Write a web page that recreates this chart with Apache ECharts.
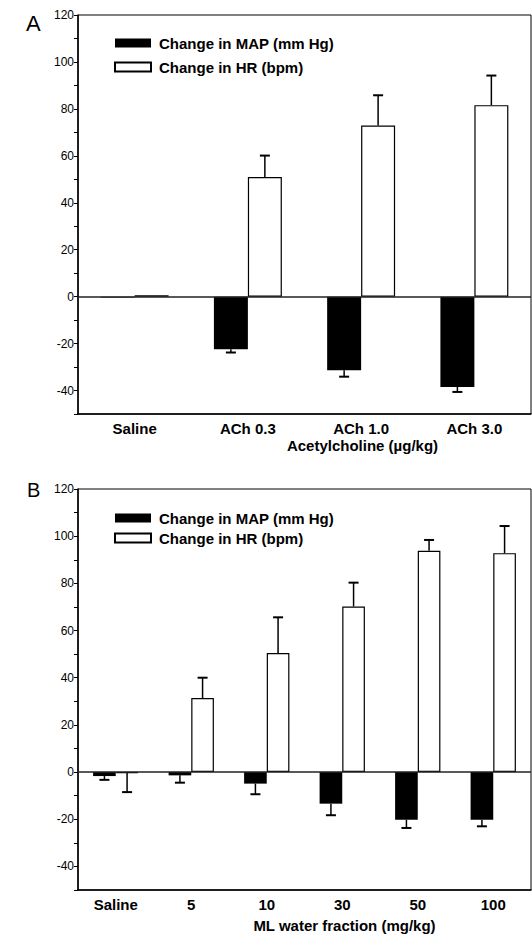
<!DOCTYPE html>
<html><head><meta charset="utf-8">
<script src="https://cdn.jsdelivr.net/npm/echarts@6/dist/echarts.min.js"></script>
<style>html,body{margin:0;padding:0;background:#fff}#c{width:532px;height:938px}</style>
</head><body><div id="c"></div>
<script>
// ---- data ----
const seriesNames = ['Change in MAP (mm Hg)', 'Change in HR (bpm)'];
const categoriesA = ['Saline', 'ACh 0.3', 'ACh 1.0', 'ACh 3.0'];
const mapA    = [-0.4, -22.4, -31.4, -38.5];
const mapSemA = [0, 1.4, 2.7, 2.1];
const hrA     = [0.6, 51.0, 72.9, 81.6];
const hrSemA  = [0, 9.1, 12.9, 12.6];
const xNameA = 'Acetylcholine (\u00b5g/kg)';

const categoriesB = ['Saline', '5', '10', '30', '50', '100'];
const mapB    = [-1.7, -1.4, -4.9, -13.4, -20.2, -20.2];
const mapSemB = [1.6, 3.1, 4.5, 4.9, 3.5, 2.8];
const hrB     = [-0.4, 31.4, 50.5, 70.2, 93.8, 92.8];
const hrSemB  = [8.1, 8.6, 15.1, 10.1, 4.6, 11.5];
const xNameB = 'ML water fraction (mg/kg)';

const yMin = -50, yMax = 120, yStep = 10, yLabelStep = 20;
const panelLabels = ['A', 'B'];

// ---- helpers ----
const FONT = 'Liberation Sans, Arial, Helvetica, sans-serif';
function errData(vals, sems, off) {
  const out = [];
  vals.forEach((v, i) => {
    if (sems[i] > 0) out.push([i, v, v + (v < 0 ? -sems[i] : sems[i]), off]);
  });
  return out;
}
function renderErr(params, api) {
  const i = api.value(0), v = api.value(1), e = api.value(2), off = api.value(3);
  const p0 = api.coord([i, v]);
  const p1 = api.coord([i, e]);
  const band = api.size([1, 0])[0];
  const cx = p0[0] + off * band;
  const cap = 5;
  return {
    type: 'group',
    children: [
      { type: 'line', shape: { x1: cx, y1: p0[1], x2: cx, y2: p1[1] }, style: { stroke: '#000', lineWidth: 1.5 } },
      { type: 'line', shape: { x1: cx - cap, y1: p1[1], x2: cx + cap, y2: p1[1] }, style: { stroke: '#000', lineWidth: 2 } }
    ]
  };
}
function xAxisCfg(idx, cats, name, shift, gap) {
  return {
    type: 'category', gridIndex: idx, data: cats, position: 'bottom',
    axisLine: { onZero: false, lineStyle: { color: '#000', width: 1.5 } },
    axisTick: { show: false },
    axisLabel: { color: '#000', fontSize: 15, fontWeight: 'bold', fontFamily: FONT, margin: 7 },
    name: name, nameLocation: 'middle', nameGap: gap,
    nameTextStyle: { color: '#000', fontSize: 15, fontWeight: 'bold', fontFamily: FONT, padding: [0, 0, 0, shift * 2] }
  };
}
function yAxisCfg(idx) {
  return {
    type: 'value', gridIndex: idx, min: yMin, max: yMax, interval: yStep,
    splitLine: { show: false },
    axisLine: { show: true, lineStyle: { color: '#000', width: 1.5 } },
    axisTick: { show: true, length: 4, lineStyle: { color: '#000' } },
    axisLabel: {
      color: '#000', fontSize: 12, fontFamily: FONT, margin: 4,
      formatter: v => (v % yLabelStep === 0 ? String(v) : '')
    }
  };
}
function barSeries(idx, name, data, isMap, withZero) {
  const s = {
    type: 'bar', name: name, xAxisIndex: idx, yAxisIndex: idx, data: data,
    barWidth: '30%', barGap: '0%',
    itemStyle: isMap ? { color: '#000' } : { color: '#fff', borderColor: '#000', borderWidth: 1.2 },
    emphasis: { disabled: true }, animation: false
  };
  if (withZero) {
    s.markLine = {
      silent: true, symbol: 'none', label: { show: false },
      lineStyle: { color: '#222', width: 1.5, type: 'solid' },
      data: [{ yAxis: 0 }]
    };
  }
  return s;
}
function errSeries(idx, data) {
  return {
    type: 'custom', xAxisIndex: idx, yAxisIndex: idx, data: data, renderItem: renderErr,
    z: 5, silent: true, animation: false
  };
}
function legendCfg(top, gap) {
  return {
    data: seriesNames, orient: 'vertical', left: 109, top: top,
    itemWidth: 36, itemHeight: 9, itemGap: gap, selectedMode: false,
    icon: 'rect',
    textStyle: { color: '#000', fontSize: 15, fontWeight: 'bold', fontFamily: FONT, lineHeight: 16, padding: [0, 0, 0, 3] }
  };
}

const chart = echarts.init(document.getElementById('c'), null, { renderer: 'svg', width: 532, height: 938 });
chart.setOption({
  backgroundColor: '#fff',
  animation: false,
  title: [
    { text: panelLabels[0], left: 21, top: 7, textStyle: { fontSize: 22, fontWeight: 'normal', color: '#000', fontFamily: FONT } },
    { text: panelLabels[1], left: 22, top: 475, textStyle: { fontSize: 20, fontWeight: 'normal', color: '#000', fontFamily: FONT } }
  ],
  legend: [legendCfg(30, 8), legendCfg(505, 4)],
  grid: [
    { left: 78, right: 1, top: 15, height: 399, show: true, borderColor: '#000', borderWidth: 1, backgroundColor: 'transparent' },
    { left: 78, right: 1, top: 489, height: 401, show: true, borderColor: '#000', borderWidth: 1, backgroundColor: 'transparent' }
  ],
  xAxis: [xAxisCfg(0, categoriesA, xNameA, 58, 24), xAxisCfg(1, categoriesB, xNameB, 40, 28)],
  yAxis: [yAxisCfg(0), yAxisCfg(1)],
  series: [
    barSeries(0, seriesNames[0], mapA, true, true),
    barSeries(0, seriesNames[1], hrA, false, false),
    errSeries(0, errData(mapA, mapSemA, -0.15).concat(errData(hrA, hrSemA, 0.15))),
    barSeries(1, seriesNames[0], mapB, true, true),
    barSeries(1, seriesNames[1], hrB, false, false),
    errSeries(1, errData(mapB, mapSemB, -0.15).concat(errData(hrB, hrSemB, 0.15)))
  ]
});
</script></body></html>
